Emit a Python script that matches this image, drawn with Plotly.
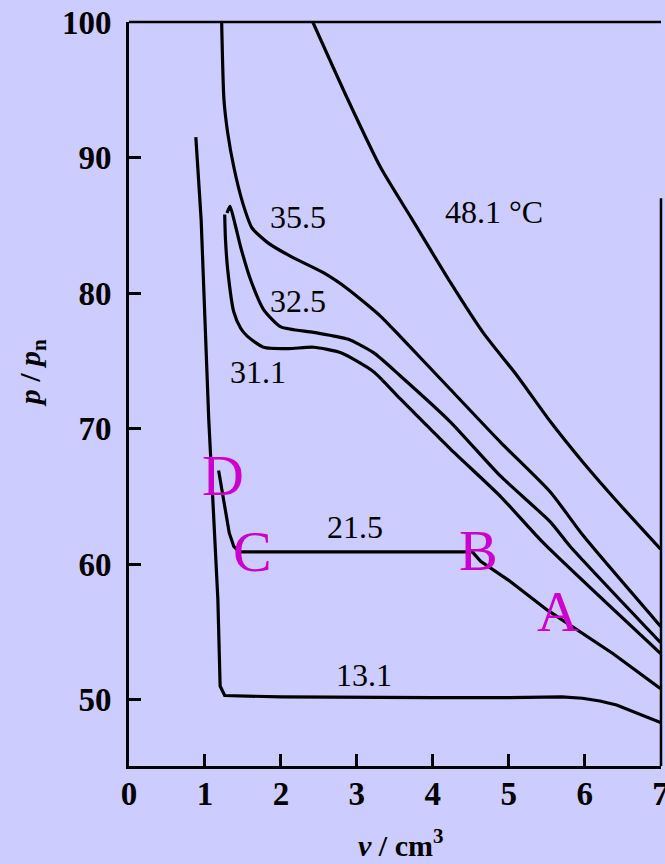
import plotly.graph_objects as go

# ---- data ----
v_131 = [0.88, 0.95, 1.05, 1.12, 1.17, 1.20, 1.26, 2.0, 3.0, 4.0, 5.0, 5.7, 5.97, 6.2, 6.42, 6.70, 7.0]
p_131 = [91.5, 85.4, 70.7, 63.3, 57.4, 51.0, 50.3, 50.2, 50.15, 50.15, 50.15, 50.2, 50.1, 49.9, 49.6, 49.0, 48.3]

v_215 = [1.18, 1.25, 1.32, 1.38, 1.45, 2.5, 3.5, 4.52, 4.63, 5.0, 5.51, 6.0, 6.37, 7.0]
p_215 = [66.9, 64.5, 62.3, 61.3, 60.9, 60.9, 60.9, 60.9, 60.2, 58.8, 56.6, 54.8, 53.4, 50.8]

v_311 = [1.26, 1.27, 1.30, 1.38, 1.47, 1.56, 1.77, 2.1, 2.43, 2.79, 3.22, 3.57, 4.23, 4.89, 5.45, 7.0]
p_311 = [85.8, 84.0, 81.7, 78.6, 77.4, 76.8, 76.0, 75.9, 76.0, 75.6, 74.2, 72.2, 68.5, 65.0, 61.6, 53.4]

v_325 = [1.29, 1.33, 1.40, 1.47, 1.60, 1.77, 2.0, 2.43, 2.88, 3.22, 3.57, 4.23, 4.89, 5.55, 5.81, 7.0]
p_325 = [85.9, 86.4, 85.0, 83.4, 81.0, 78.8, 77.5, 77.1, 76.6, 75.6, 73.9, 70.5, 66.5, 63.1, 61.3, 54.2]

v_355 = [1.22, 1.25, 1.30, 1.38, 1.50, 1.62, 1.83, 2.13, 2.56, 2.88, 3.31, 3.57, 4.23, 4.89, 5.55, 5.98, 7.0]
p_355 = [100.0, 94.3, 91.8, 89.3, 86.6, 84.8, 83.7, 82.7, 81.5, 80.3, 78.3, 76.8, 72.9, 69.0, 65.3, 62.1, 55.4]

v_481 = [2.42, 2.88, 3.31, 3.71, 4.23, 4.66, 5.11, 5.55, 5.98, 6.43, 7.0]
p_481 = [100.0, 94.3, 89.3, 85.6, 80.8, 77.1, 73.9, 70.5, 67.5, 64.6, 61.1]

curve_labels = ["35.5", "32.5", "31.1", "21.5", "13.1", "48.1 °C"]
curve_label_v = [2.22, 2.23, 1.70, 2.98, 3.09, 4.80]
curve_label_p = [85.6, 79.4, 74.2, 62.7, 51.8, 86.0]

point_labels = ["A", "B", "C", "D"]
point_label_v = [5.65, 4.60, 1.63, 1.24]
point_label_p = [56.5, 61.0, 60.9, 66.5]

x_ticks = [0, 1, 2, 3, 4, 5, 6, 7]
y_ticks = [50, 60, 70, 80, 90, 100]

BG = "#ccccff"
SERIF = "Liberation Serif"

fig = go.Figure()
series = [(v_131, p_131, "linear"), (v_215, p_215, "linear"), (v_311, p_311, "spline"),
          (v_325, p_325, "spline"), (v_355, p_355, "spline"), (v_481, p_481, "spline")]
for vs, ps, shp in series:
    fig.add_trace(go.Scatter(x=vs, y=ps, mode="lines",
                             line=dict(color="black", width=3.2, shape=shp, smoothing=0.6),
                             showlegend=False, hoverinfo="skip",
                             cliponaxis=True))

for t, x, y in zip(curve_labels, curve_label_v, curve_label_p):
    fig.add_annotation(x=x, y=y, xref="x", yref="y", text=t, showarrow=False,
                       font=dict(family=SERIF, size=32, color="black"))

for t, x, y in zip(point_labels, point_label_v, point_label_p):
    fig.add_annotation(x=x, y=y, xref="x", yref="y", text=t, showarrow=False,
                       font=dict(family=SERIF, size=58, color="#cc00cc"))

# axis titles
fig.add_annotation(x=0.51, y=-0.104, xref="paper", yref="paper",
                   xanchor="center", yanchor="middle",
                   text="<i>v</i> / cm<sup>3</sup>", showarrow=False,
                   font=dict(family=SERIF, size=30, color="black", weight="bold"))
fig.add_annotation(x=-0.182, y=0.528, xref="paper", yref="paper",
                   xanchor="center", yanchor="middle",
                   text="<i>p</i> / <i>p</i><sub>n</sub>", showarrow=False, textangle=-90,
                   font=dict(family=SERIF, size=30, color="black", weight="bold"))

# frame: top line across, right line partial
fig.add_shape(type="line", xref="paper", yref="paper", x0=0, x1=1, y0=1, y1=1,
              line=dict(color="black", width=2.5))
fig.add_shape(type="line", xref="paper", yref="paper", x0=1, x1=1, y0=0, y1=0.763,
              line=dict(color="black", width=2.5))

fig.update_layout(
    width=665, height=864,
    margin=dict(l=129, r=4, t=22, b=98, autoexpand=False),
    paper_bgcolor=BG, plot_bgcolor=BG,
    showlegend=False,
)
fig.update_xaxes(range=[0, 7.005], tickvals=x_ticks, ticktext=[str(v) for v in x_ticks],
                 showgrid=False, zeroline=False, showline=True, linecolor="black", linewidth=3,
                 ticks="inside", ticklen=12, tickwidth=2.5, tickcolor="black", automargin=False,
                 tickfont=dict(family=SERIF, size=33, color="black", weight="bold"),
                 ticklabelstandoff=-4, ticklabeloverflow="allow")
fig.update_yaxes(range=[45.1, 100], tickvals=y_ticks, ticktext=[str(v) for v in y_ticks],
                 showgrid=False, zeroline=False, showline=True, linecolor="black", linewidth=3,
                 ticks="inside", ticklen=12, tickwidth=2.5, tickcolor="black", automargin=False,
                 tickfont=dict(family=SERIF, size=33, color="black", weight="bold"),
                 ticklabelstandoff=8, ticklabeloverflow="allow")

fig.write_html(
    "out.html",
    config={"displayModeBar": False},
    post_script="document.body.style.margin='0';document.body.style.padding='0';"
                "document.body.style.backgroundColor='#ccccff';",
)
